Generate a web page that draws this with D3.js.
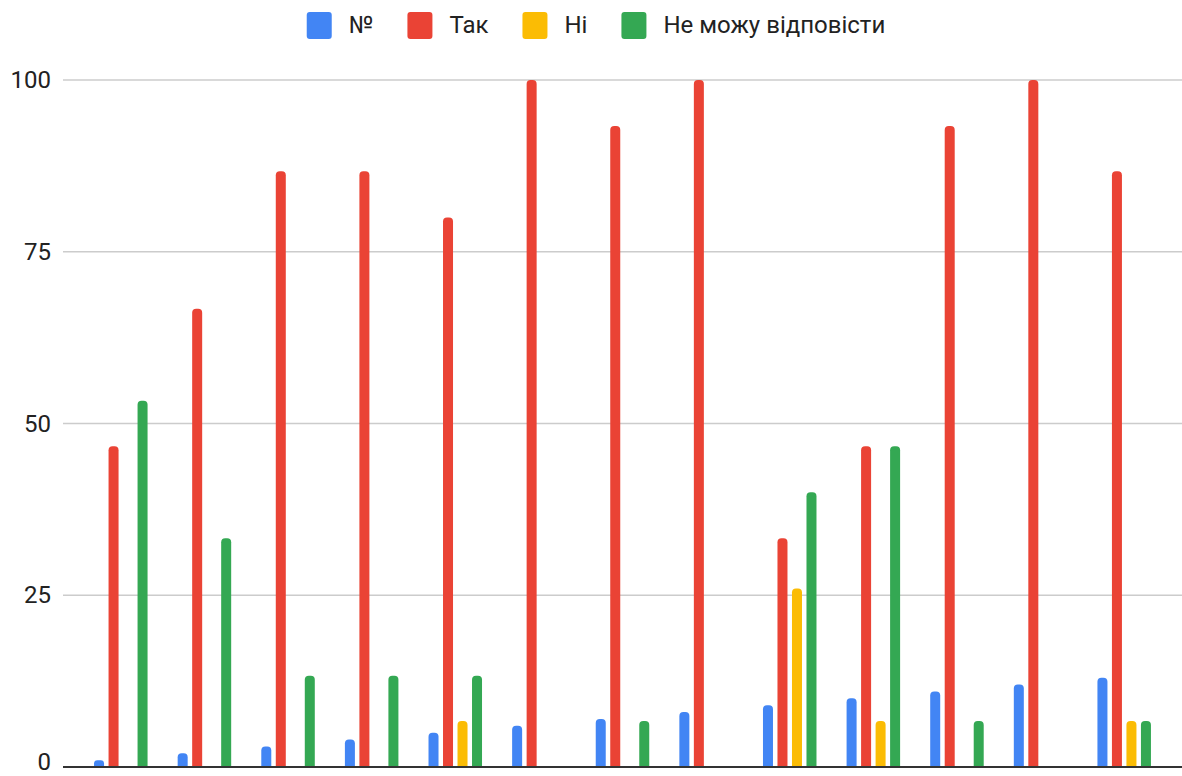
<!DOCTYPE html>
<html>
<head>
<meta charset="utf-8">
<script src="https://cdn.jsdelivr.net/npm/d3@7"></script>
<style>
  body { margin: 0; background: #fff; }
  svg { display: block; font-family: Roboto, "Noto Sans", Arial, sans-serif; }
</style>
</head>
<body>
<div id="container-chart"></div>
<script>
// chart data
const groups = ['1', '2', '3', '4', '5', '6', '7', '8', '9', '10', '11', '12', '13'];
const seriesNames = ['№', 'Так', 'Ні', 'Не можу відповісти'];
const numValues = [1, 2, 3, 4, 5, 6, 7, 8, 9, 10, 11, 12, 13];
const yesValues = [46.7, 66.7, 86.7, 86.7, 80, 100, 93.3, 100, 33.3, 46.7, 93.3, 100, 86.7];
const noValues = [0, 0, 0, 0, 6.7, 0, 0, 0, 26, 6.7, 0, 0, 6.7];
const cantValues = [53.3, 33.3, 13.3, 13.3, 13.3, 0, 6.7, 0, 40, 46.7, 6.7, 0, 6.7];
const yTicks = [0, 25, 50, 75, 100];
const colors = ['#4285F4', '#EA4335', '#FBBC04', '#34A853'];

const width = 1182;
const height = 776;

const svg = d3.select('#container-chart')
    .append('svg')
    .attr('width', width)
    .attr('height', height);

// scales
const x0 = d3.scaleBand()
    .domain(groups)
    .range([79, 1166])
    .paddingInner(0.36)
    .paddingOuter(0.18);

const x1 = d3.scaleBand()
    .domain(seriesNames)
    .range([0, x0.bandwidth()])
    .paddingInner(0.31);

const y = d3.scaleLinear()
    .domain([0, 100])
    .range([767, 80]);

// gridlines
svg.append('g')
    .selectAll('line')
    .data(yTicks.filter(d => d > 0))
    .enter()
    .append('line')
    .attr('x1', 63)
    .attr('x2', width)
    .attr('y1', d => y(d))
    .attr('y2', d => y(d))
    .attr('stroke', '#cccccc')
    .attr('stroke-width', 1.6);

// y axis labels
const yAxis = svg.append('g')
    .attr('transform', 'translate(63,0)')
    .call(d3.axisLeft(y).tickValues(yTicks).tickSize(0).tickPadding(12));
yAxis.select('.domain').remove();
yAxis.selectAll('text')
    .attr('fill', '#222')
    .attr('dy', d => d === 0 ? '0.1em' : '0.32em')
    .style('font-size', '24px')
    .style('font-family', 'Roboto, Arial, sans-serif');

// rounded-top bar shape
function barPath(x, yTop, w, yBase) {
    const r = Math.min(4, (yBase - yTop) / 2, w / 2);
    return `M${x},${yBase}V${yTop + r}Q${x},${yTop} ${x + r},${yTop}` +
        `H${x + w - r}Q${x + w},${yTop} ${x + w},${yTop + r}V${yBase}Z`;
}

const rows = groups.map((g, i) => ({
    group: g,
    values: [numValues[i], yesValues[i], noValues[i], cantValues[i]]
}));

const groupSel = svg.append('g')
    .selectAll('g')
    .data(rows)
    .enter()
    .append('g')
    .attr('transform', d => `translate(${x0(d.group)},0)`);

groupSel.selectAll('path')
    .data(d => d.values.map((v, k) => ({ key: seriesNames[k], value: v, color: colors[k] })).filter(d => d.value > 0))
    .enter()
    .append('path')
    .attr('fill', d => d.color)
    .attr('d', d => barPath(x1(d.key), y(d.value), x1.bandwidth(), y(0)));

// baseline
svg.append('line')
    .attr('x1', 63)
    .attr('x2', width)
    .attr('y1', y(0))
    .attr('y2', y(0))
    .attr('stroke', '#333')
    .attr('stroke-width', 2);

// legend
const legend = svg.append('g');
let lx = 0;
seriesNames.forEach((name, i) => {
    const item = legend.append('g').attr('transform', `translate(${lx},0)`);
    item.append('rect')
        .attr('x', 0)
        .attr('y', 12)
        .attr('width', 25)
        .attr('height', 27)
        .attr('rx', 3)
        .attr('fill', colors[i]);
    const t = item.append('text')
        .attr('x', 42)
        .attr('y', 25)
        .attr('dy', '0.35em')
        .attr('fill', '#222')
        .style('font-size', '24px')
        .text(name);
    lx += 42 + t.node().getComputedTextLength() + 34;
});
const legendWidth = lx - 34;
legend.attr('transform', `translate(${596 - legendWidth / 2},0)`);
</script>
</body>
</html>
